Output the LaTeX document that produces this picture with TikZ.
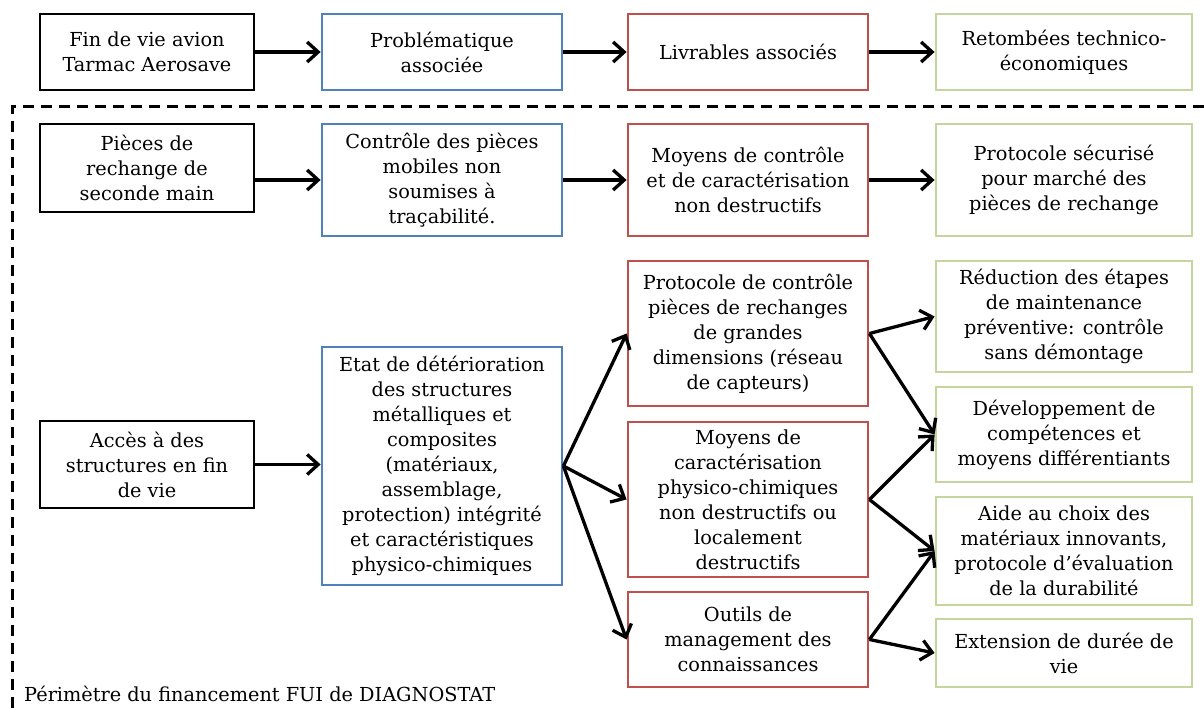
\documentclass[tikz,border=0pt]{standalone}
\usepackage{fontspec}
\setmainfont{DejaVu Serif}
\usetikzlibrary{arrows.meta}
\definecolor{cblue}{HTML}{4F81BD}
\definecolor{cred}{HTML}{C0504D}
\definecolor{cgreen}{HTML}{C3D69B}
\begin{document}
\begin{tikzpicture}[x=1pt,y=-1pt,
  box/.style={draw, line width=2.8pt, align=center, inner sep=0pt,
    font=\fontsize{19.3}{25}\selectfont},
  bk/.style={box, draw=black},
  bl/.style={box, draw=cblue},
  rd/.style={box, draw=cred},
  gr/.style={box, draw=cgreen},
  arr/.style={line width=3.3pt, -{Straight Barb[length=11pt,width=20pt,line width=3.3pt]}},
  dsh/.style={line width=3pt, dash pattern=on 11pt off 7pt}
]
\useasboundingbox (0,0) rectangle (1204,708);
\newcommand{\bx}[7]{\node[#1, minimum width=#4-#2, minimum height=#5-#3] (#6) at ({(#2+#4)/2},{(#3+#5)/2}) {#7};}
% row 1
\bx{bk}{40}{14}{254}{90}{a1}{Fin de vie avion\\Tarmac Aerosave}
\bx{bl}{322}{14}{562}{90}{b1}{Problématique\\associée}
\bx{rd}{628}{14}{868}{90}{c1}{Livrables associés}
\bx{gr}{936}{14}{1192}{90}{d1}{Retombées technico-\\économiques}
% dashed frame
\coordinate (fr1) at (1204,107);
\coordinate (fr2) at (12,107);
\coordinate (fr3) at (12,708);
\draw[dsh] (fr1) -- (fr2) -- (fr3);
% row 2
\bx{bk}{40}{124}{254}{212}{a2}{Pièces de\\rechange de\\seconde main}
\bx{bl}{322}{124}{562}{236}{b2}{Contrôle des pièces\\mobiles non\\soumises à\\traçabilité.}
\bx{rd}{628}{124}{868}{236}{c2}{Moyens de contrôle\\et de caractérisation\\non destructifs}
\bx{gr}{936}{124}{1192}{236}{d2}{Protocole sécurisé\\pour marché des\\pièces de rechange}
% row 3
\bx{bk}{40}{421}{254}{508}{a3}{Accès à des\\structures en fin\\de vie}
\bx{bl}{322}{347}{562}{585}{b3}{Etat de détérioration\\des structures\\métalliques et\\composites\\(matériaux,\\assemblage,\\protection) intégrité\\et caractéristiques\\physico-chimiques}
\bx{rd}{628}{261}{868}{406}{c3}{Protocole de contrôle\\pièces de rechanges\\de grandes\\dimensions (réseau\\de capteurs)}
\bx{rd}{628}{422}{868}{577}{c4}{Moyens de\\caractérisation\\physico-chimiques\\non destructifs ou\\localement\\destructifs}
\bx{rd}{628}{592}{868}{687}{c5}{Outils de\\management des\\connaissances}
\bx{gr}{936}{261}{1192}{372}{d3}{Réduction des étapes\\de maintenance\\préventive: contrôle\\sans démontage}
\bx{gr}{936}{387}{1192}{482}{d4}{Développement de\\compétences et\\moyens différentiants}
\bx{gr}{936}{497}{1192}{605}{d5}{Aide au choix des\\matériaux innovants,\\protocole d’évaluation\\de la durabilité}
\bx{gr}{936}{619}{1192}{687}{d6}{Extension de durée de\\vie}
% label
\node[anchor=west, inner sep=0pt, font=\fontsize{19.3}{25}\selectfont] (lab) at (24,694) {Périmètre du financement FUI de DIAGNOSTAT};
% arrows
\draw[arr] (a1) -- (b1);
\draw[arr] (b1) -- (c1);
\draw[arr] (c1) -- (d1);
\draw[arr] (a2.east |- b2) -- (b2);
\draw[arr] (b2) -- (c2);
\draw[arr] (c2) -- (d2);
\draw[arr] (a3) -- (b3.west |- a3);
\draw[arr] (b3.east) -- (c3.west);
\draw[arr] (b3.east) -- (c4.west);
\draw[arr] (b3.east) -- (c5.west);
\draw[arr] (c3.east) -- (d3.west);
\draw[arr] (c3.east) -- (d4.west);
\draw[arr] (c4.east) -- (d4.west);
\draw[arr] (c4.east) -- (d5.west);
\draw[arr] (c5.east) -- (d5.west);
\draw[arr] (c5.east) -- (d6.west);
\end{tikzpicture}
\end{document}
